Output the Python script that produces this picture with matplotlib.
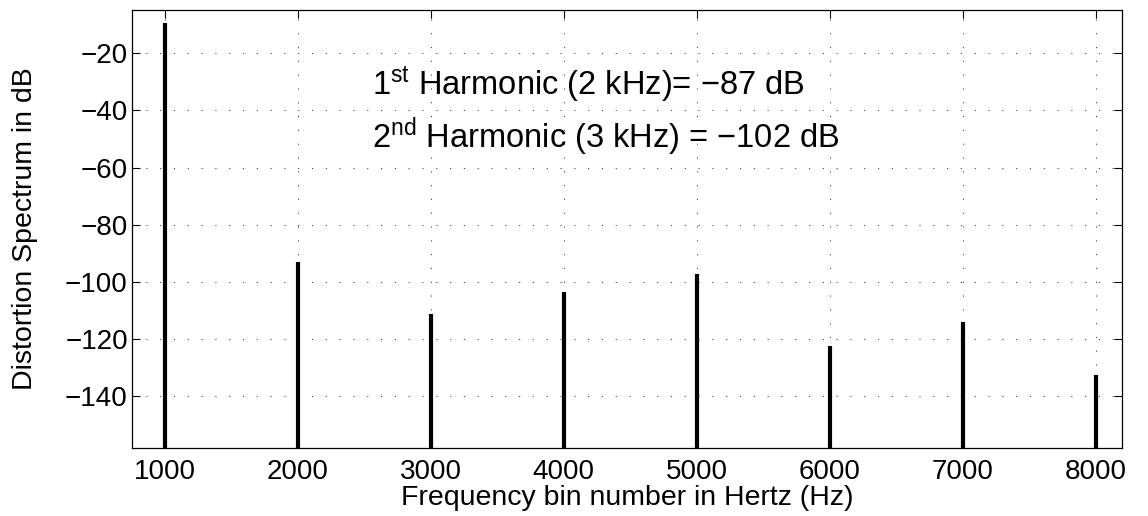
import numpy as np
import matplotlib
matplotlib.use("Agg")
from matplotlib import pyplot as plt

plt.rcParams['font.family'] = ['Liberation Sans', 'DejaVu Sans']
plt.rcParams['mathtext.fontset'] = 'custom'
plt.rcParams['mathtext.rm'] = 'Liberation Sans'
plt.rcParams['mathtext.it'] = 'Liberation Sans'

# harmonic bins (Hz) and their level in dB
freqs = [1000, 2000, 3000, 4000, 5000, 6000, 7000, 8000]
levels = [-9.5, -93.0, -111.1, -103.5, -97.4, -122.3, -114.1, -132.4]

xTicks = [1000, 2000, 3000, 4000, 5000, 6000, 7000, 8000]
yTicks = [-140, -120, -100, -80, -60, -40, -20]
xRange = (755, 8200)
yRange = (-158, -5)

notes = [r"1$^{\rm st}$ Harmonic (2 kHz)= −87 dB",
         r"2$^{\rm nd}$ Harmonic (3 kHz) = −102 dB"]

fig = plt.figure(figsize=(11.48, 5.16), dpi=100)
ax = fig.add_axes([0.115, 0.1324, 0.8626, 0.8476])

# stems drawn from the bottom of the axes, like MATLAB's stem without markers
ax.vlines(freqs, yRange[0], levels, colors="black", linewidth=3.0, zorder=3)

ax.set_xlim(xRange)
ax.set_ylim(yRange)
ax.set_xticks(xTicks)
ax.set_yticks(yTicks)

ax.grid(True, color="black", linewidth=0.7, linestyle=(0, (1.2, 13)), alpha=0.75)
ax.tick_params(direction="in", length=6, width=0.8, top=True, right=True,
               labelsize=20)
ax.tick_params(axis="x", pad=8)
ax.tick_params(axis="y", pad=3)
for spine in ax.spines.values():
    spine.set_linewidth(0.9)

ax.set_xlabel("Frequency bin number in Hertz (Hz)", fontsize=20.5)
ax.set_ylabel("Distortion Spectrum in dB", fontsize=20.5)
ax.xaxis.set_label_coords(0.5, -0.115)
ax.yaxis.set_label_coords(-0.108, 0.5)
ax.xaxis.label.set_va("center")
ax.yaxis.label.set_va("center")

ax.text(0.2424, 0.806, notes[0], transform=ax.transAxes, fontsize=23.5,
        va="baseline", ha="left")
ax.text(0.2424, 0.685, notes[1], transform=ax.transAxes, fontsize=23.5,
        va="baseline", ha="left")

fig.savefig("out.png", dpi=100)
